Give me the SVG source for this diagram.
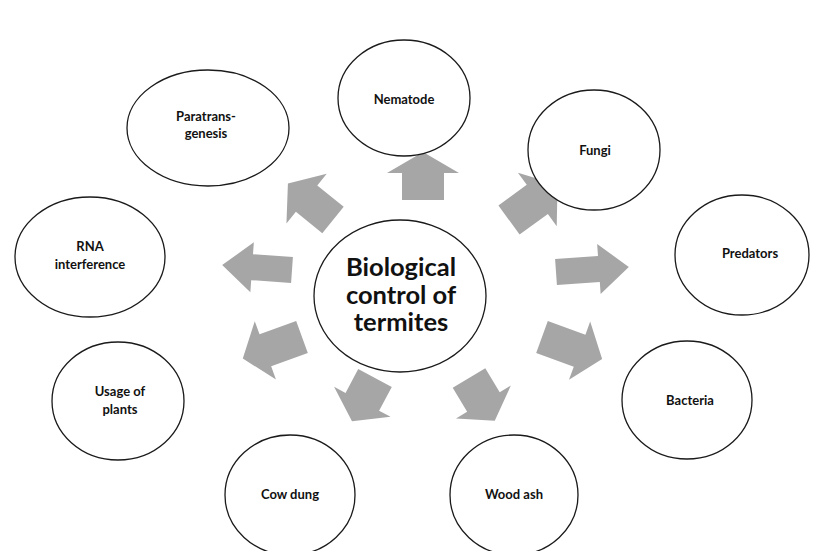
<svg xmlns="http://www.w3.org/2000/svg" width="823" height="551" viewBox="0 0 823 551">
<style>
.node ellipse{fill:#fff;stroke:#1a1a1a;stroke-width:1.3}
.node text{font-family:Lato,"Open Sans","Liberation Sans",sans-serif;font-weight:bold;font-size:13px;fill:#111;text-anchor:middle}
.center text{font-size:25.5px}
.arrows path{fill:#a6a6a6}
</style>
<rect width="823" height="551" fill="#fff"/>
<g class="arrows" id="connectors">
<path transform="translate(423,200) rotate(-90)" d="M0,-21 L27,-21 L27,-36 L48,0 L27,36 L27,21 L0,21 Z"/>
<path transform="translate(509,220) rotate(-36)" d="M0,-18 L35,-18 L35,-33 L60,0 L35,33 L35,18 L0,18 Z"/>
<path transform="translate(556,272) rotate(-4)" d="M0,-13 L43,-13 L43,-25 L73,0 L43,25 L43,13 L0,13 Z"/>
<path transform="translate(542,337) rotate(20)" d="M0,-17 L40,-17 L40,-31 L64,0 L40,31 L40,17 L0,17 Z"/>
<path transform="translate(469,378) rotate(59)" d="M0,-19 L28,-19 L28,-32 L50,0 L28,32 L28,19 L0,19 Z"/>
<path transform="translate(375,378) rotate(118)" d="M0,-19 L27,-19 L27,-32 L49,0 L27,32 L27,19 L0,19 Z"/>
<path transform="translate(302,337) rotate(160)" d="M0,-17 L39,-17 L39,-31 L63,0 L39,31 L39,17 L0,17 Z"/>
<path transform="translate(292,270) rotate(184)" d="M0,-13 L40,-13 L40,-25 L70,0 L40,25 L40,13 L0,13 Z"/>
<path transform="translate(333,220) rotate(219)" d="M0,-17 L34,-17 L34,-32 L58,0 L34,32 L34,17 L0,17 Z"/>
</g>
<g class="node center" id="center">
<ellipse cx="400" cy="296" rx="86" ry="76"/>
<text x="401" y="276"><tspan x="401">Biological</tspan><tspan x="401" dy="27.5">control of</tspan><tspan x="401" dy="27">termites</tspan></text>
</g>
<g class="node" id="nematode">
<ellipse cx="404" cy="98" rx="66" ry="58"/>
<text x="404" y="104">Nematode</text>
</g>
<g class="node" id="fungi">
<ellipse cx="594" cy="150" rx="66" ry="60"/>
<text x="595" y="155">Fungi</text>
</g>
<g class="node" id="predators">
<ellipse cx="742" cy="255" rx="67" ry="60"/>
<text x="750" y="258">Predators</text>
</g>
<g class="node" id="bacteria">
<ellipse cx="687" cy="400" rx="65" ry="59"/>
<text x="690" y="405">Bacteria</text>
</g>
<g class="node" id="woodash">
<ellipse cx="514" cy="495" rx="64" ry="60"/>
<text x="514" y="499">Wood ash</text>
</g>
<g class="node" id="cowdung">
<ellipse cx="290" cy="495" rx="65" ry="60"/>
<text x="290" y="499">Cow dung</text>
</g>
<g class="node" id="usage">
<ellipse cx="118" cy="401" rx="66" ry="59"/>
<text x="120" y="396"><tspan x="120">Usage of</tspan><tspan x="120" dy="18">plants</tspan></text>
</g>
<g class="node" id="rna">
<ellipse cx="90" cy="257" rx="75" ry="60"/>
<text x="90" y="251"><tspan x="90">RNA</tspan><tspan x="90" dy="18">interference</tspan></text>
</g>
<g class="node" id="paratrans">
<ellipse cx="208" cy="128" rx="81" ry="58"/>
<text x="206" y="121"><tspan x="206">Paratrans-</tspan><tspan x="206" dy="17">genesis</tspan></text>
</g>
</svg>
